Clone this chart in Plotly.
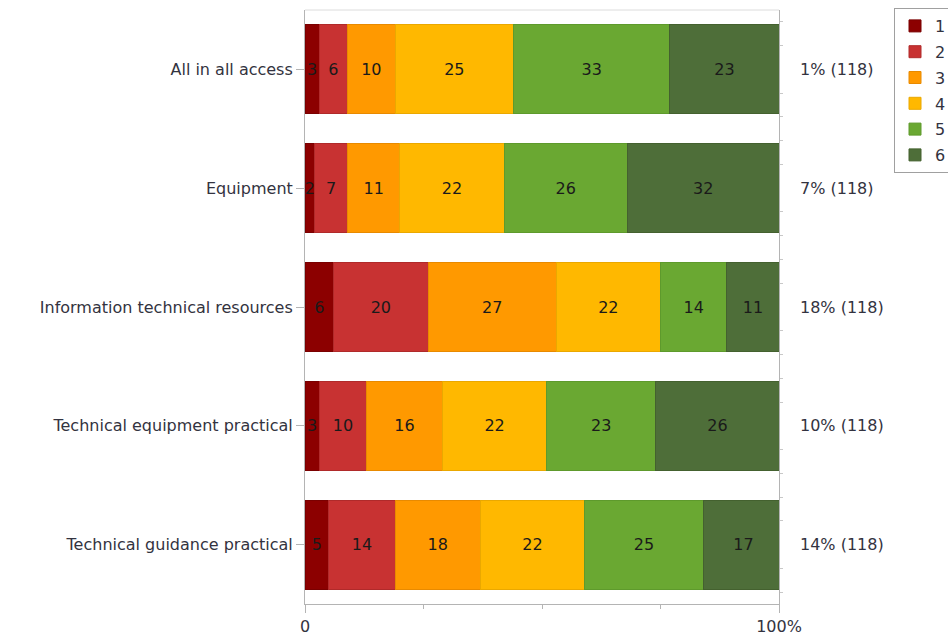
import plotly.graph_objects as go

# Survey items (top to bottom) and share of answers per rating 1-6, in percent
categories = [
    "All in all access",
    "Equipment",
    "Information technical resources",
    "Technical equipment practical",
    "Technical guidance practical",
]
ratings = ["1", "2", "3", "4", "5", "6"]
shares = {
    "1": [3, 2, 6, 3, 5],
    "2": [6, 7, 20, 10, 14],
    "3": [10, 11, 27, 16, 18],
    "4": [25, 22, 22, 22, 22],
    "5": [33, 26, 14, 23, 25],
    "6": [23, 32, 11, 26, 17],
}
no_answer = ["1%", "7%", "18%", "10%", "14%"]
respondents = [118, 118, 118, 118, 118]

fill_colors = ["#8c0000", "#c83232", "#ff9900", "#ffb800", "#6aa832", "#4e6e39"]
edge_colors = ["#7a0000", "#b02a2a", "#e88a00", "#eaa800", "#5e9a2c", "#44612f"]

FONT = "DejaVu Sans"
TXT = "#333340"
FS = 16

fig = go.Figure()
for r, fc, ec in zip(ratings, fill_colors, edge_colors):
    vals = shares[r]
    fig.add_trace(go.Bar(
        y=list(range(len(categories))),
        x=vals,
        orientation="h",
        name=r,
        legendgroup=r,
        width=0.75,
        marker=dict(color=fc, line=dict(color=ec, width=1)),
        text=[str(v) for v in vals],
        textposition="inside",
        insidetextanchor="middle",
        textangle=0,
        textfont=dict(family=FONT, size=FS, color="#1a1a1a"),
        hoverinfo="x+name",
    ))

# small ticks along the right edge of the plot
right_ticks = [c + d for c in range(len(categories)) for d in (-0.4, -0.2, 0.2, 0.4)]
fig.add_trace(go.Scatter(x=[None], y=[None], yaxis="y2", showlegend=False, hoverinfo="skip"))

# no-answer share and respondent count, to the right of each bar
for i, (na, n) in enumerate(zip(no_answer, respondents)):
    fig.add_annotation(
        x=1.04, xref="paper", y=i, yref="y",
        text=f"{na} ({n})", showarrow=False, xanchor="left",
        font=dict(family=FONT, size=FS, color=TXT),
    )

# light top border of the plot area
fig.add_shape(type="line", xref="paper", yref="paper", x0=0, x1=1, y0=1, y1=1,
              line=dict(color="#dcdcdc", width=1))

fig.update_layout(
    width=948, height=635,
    margin=dict(l=305, r=169, t=10, b=31, pad=0, autoexpand=False),
    barmode="stack",
    paper_bgcolor="white", plot_bgcolor="white",
    font=dict(family=FONT, size=FS, color=TXT),
    uniformtext=dict(minsize=FS, mode="show"),
    xaxis=dict(
        range=[0, 100], tickvals=[0, 100], ticktext=["0", "100%"],
        showgrid=False, zeroline=False,
        showline=True, linecolor="#b4b4b4", linewidth=1,
        ticks="outside", ticklen=8, tickcolor="#b4b4b4",
        minor=dict(tickvals=[25, 50, 75], ticks="outside", ticklen=4, tickcolor="#b4b4b4"),
        tickfont=dict(family=FONT, size=FS, color=TXT),
        fixedrange=True,
    ),
    yaxis=dict(
        range=[4.5, -0.5], tickvals=list(range(len(categories))), ticktext=categories,
        showgrid=False, zeroline=False,
        showline=True, linecolor="#b4b4b4", linewidth=1,
        ticks="outside", ticklen=8, tickcolor="#b4b4b4",
        tickfont=dict(family=FONT, size=FS, color=TXT),
        fixedrange=True,
    ),
    yaxis2=dict(
        overlaying="y", side="right", range=[4.5, -0.5],
        tickvals=right_ticks, showticklabels=False,
        showgrid=False, zeroline=False,
        showline=True, linecolor="#b4b4b4", linewidth=1,
        ticks="outside", ticklen=3, tickcolor="#c8c8c8",
        fixedrange=True,
    ),
    legend=dict(
        xref="container", yref="container",
        x=894 / 948, y=1 - 8 / 635, xanchor="left", yanchor="top",
        bordercolor="#a0a0a0", borderwidth=1, bgcolor="white",
        traceorder="grouped", tracegroupgap=2,
        font=dict(family=FONT, size=FS, color=TXT),
        itemclick=False, itemdoubleclick=False,
    ),
    showlegend=True,
)

fig.write_html("out.html")
